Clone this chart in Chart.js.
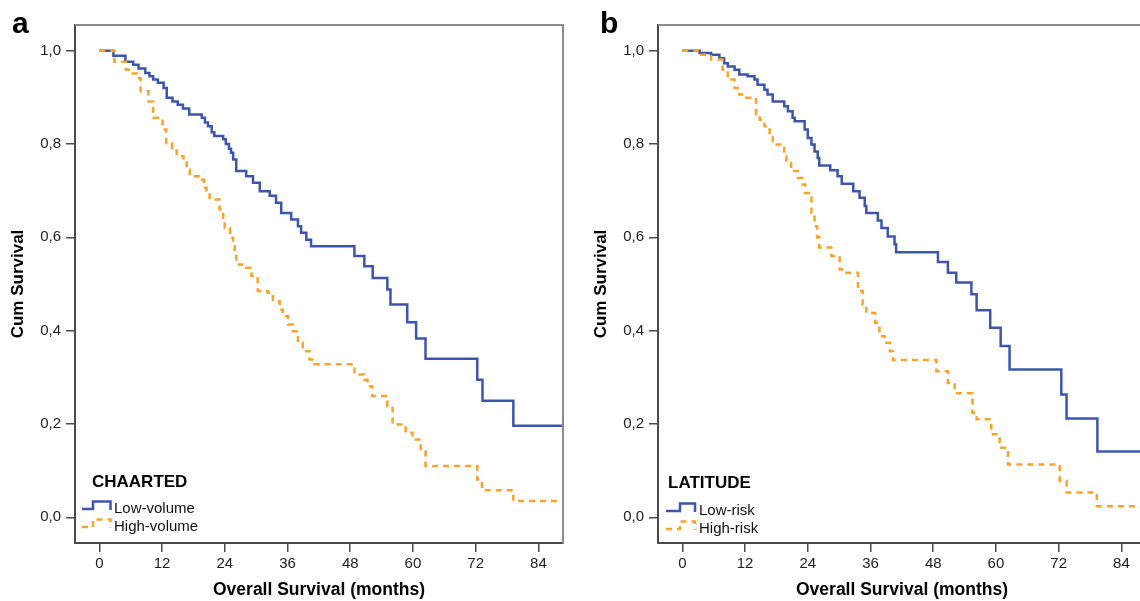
<!DOCTYPE html>
<html>
<!------------------------- Kaplan-Meier : CHAARTED / LATITUDE ------------------------- -->
  <head>
    <meta charset="utf-8">
    <title>Overall Survival</title>
    <script src="https://cdn.jsdelivr.net/npm/chart.js"></script>
    <style>
      html, body { margin: 0; padding: 0; background: #fff; overflow: hidden; }
      .panel { position: absolute; top: 0; width: 575px; height: 601px; }
      #panelA { left: 0; }
      #panelB { left: 583px; }
    </style>
  </head>
  <body>
    <div class="panel" id="panelA"><canvas id="chartA" width="575" height="601"></canvas></div>
    <div class="panel" id="panelB"><canvas id="chartB" width="575" height="601"></canvas></div>
  </body>
</html>
<script>
//------------------------------------------------------------------------------
// data (months, cumulative survival)
//------------------------------------------------------------------------------
var xTicks = [0, 12, 24, 36, 48, 60, 72, 84];
var yTicks = [0, 0.2, 0.4, 0.6, 0.8, 1.0];

var chaartedLowTime = [0, 2.7, 5.0, 6.5, 7.5, 8.8, 9.6, 10.3, 11.2, 12.3, 12.9, 14.0, 15.0, 16.0, 17.2, 19.6, 20.2, 20.8, 21.5, 22.0, 23.7, 24.2, 24.8, 25.2, 25.6, 26.2, 28.1, 29.4, 30.7, 32.6, 33.8, 34.8, 36.7, 38.0, 38.6, 39.6, 40.5, 48.8, 50.7, 52.3, 55.1, 55.7, 58.9, 60.6, 62.4, 72.3, 73.3, 79.2, 88.7];
var chaartedLowSurv = [1.0, 0.989, 0.976, 0.970, 0.962, 0.952, 0.945, 0.938, 0.931, 0.920, 0.899, 0.891, 0.884, 0.876, 0.863, 0.856, 0.846, 0.838, 0.825, 0.817, 0.810, 0.800, 0.790, 0.781, 0.767, 0.742, 0.731, 0.717, 0.699, 0.689, 0.674, 0.652, 0.638, 0.624, 0.610, 0.595, 0.581, 0.560, 0.538, 0.513, 0.488, 0.456, 0.418, 0.383, 0.340, 0.295, 0.250, 0.196, 0.196];

var chaartedHighTime = [0, 2.9, 5.1, 6.0, 7.2, 7.9, 9.4, 10.3, 12.1, 12.8, 13.9, 14.8, 16.1, 16.7, 17.3, 19.6, 20.0, 20.5, 21.1, 23.0, 23.7, 24.0, 25.0, 25.6, 25.9, 26.2, 28.1, 29.1, 30.3, 32.2, 33.2, 34.5, 35.1, 36.1, 37.0, 38.0, 38.9, 40.2, 41.1, 48.8, 50.7, 51.3, 52.2, 55.1, 56.1, 58.6, 59.9, 61.5, 62.4, 72.3, 73.2, 79.2, 88.7];
var chaartedHighSurv = [1.0, 0.976, 0.959, 0.951, 0.941, 0.913, 0.891, 0.856, 0.831, 0.802, 0.792, 0.774, 0.763, 0.745, 0.731, 0.724, 0.706, 0.695, 0.681, 0.660, 0.642, 0.620, 0.599, 0.581, 0.560, 0.542, 0.535, 0.517, 0.485, 0.481, 0.463, 0.445, 0.431, 0.413, 0.399, 0.374, 0.356, 0.338, 0.328, 0.306, 0.295, 0.281, 0.260, 0.238, 0.199, 0.181, 0.167, 0.142, 0.110, 0.081, 0.058, 0.035, 0.035];

var latitudeLowTime = [0, 3.3, 5.5, 7.1, 8.0, 8.7, 10.0, 10.9, 12.5, 13.8, 14.4, 15.7, 16.3, 17.3, 19.5, 20.2, 21.1, 21.5, 23.4, 24.0, 24.7, 25.3, 25.9, 26.2, 28.3, 29.7, 30.5, 32.7, 33.9, 34.9, 35.2, 37.4, 38.1, 39.3, 40.6, 40.9, 48.9, 50.8, 52.4, 55.3, 56.3, 58.9, 60.9, 62.6, 72.5, 73.5, 79.4, 88.7];
var latitudeLowSurv = [1.0, 0.995, 0.991, 0.984, 0.973, 0.966, 0.959, 0.949, 0.945, 0.938, 0.927, 0.916, 0.906, 0.891, 0.881, 0.870, 0.856, 0.849, 0.831, 0.813, 0.799, 0.784, 0.770, 0.754, 0.744, 0.731, 0.715, 0.699, 0.685, 0.667, 0.652, 0.636, 0.620, 0.602, 0.585, 0.568, 0.547, 0.524, 0.503, 0.478, 0.444, 0.406, 0.367, 0.317, 0.263, 0.212, 0.141, 0.141];

var latitudeHighTime = [0, 2.9, 5.5, 7.7, 8.7, 10.0, 10.9, 11.9, 14.1, 14.8, 15.7, 16.7, 17.3, 19.5, 19.9, 20.8, 22.1, 23.0, 23.5, 24.7, 25.3, 25.8, 26.2, 28.5, 30.1, 31.0, 33.6, 34.5, 35.2, 36.9, 37.7, 38.7, 39.7, 40.3, 48.6, 50.8, 52.1, 55.5, 56.3, 59.1, 60.7, 62.3, 72.2, 73.5, 79.3, 88.7];
var latitudeHighSurv = [1.0, 0.991, 0.981, 0.959, 0.938, 0.920, 0.906, 0.899, 0.863, 0.852, 0.838, 0.817, 0.799, 0.774, 0.760, 0.742, 0.727, 0.713, 0.695, 0.652, 0.624, 0.600, 0.578, 0.560, 0.531, 0.524, 0.485, 0.456, 0.438, 0.417, 0.388, 0.374, 0.356, 0.337, 0.313, 0.288, 0.266, 0.224, 0.210, 0.178, 0.149, 0.113, 0.078, 0.053, 0.024, 0.024];

var BLUE = '#3d55ad';
var ORANGE = '#fba228';
var AXIS = '#4a4a4a';
var FONT = '"Liberation Sans", Arial, sans-serif';

Chart.defaults.font.family = FONT;

function toPoints(t, s) {
  var pts = [];
  for (var i = 0; i < t.length; i++) {
    pts.push({ x: t[i], y: s[i] });
  }
  return pts;
}

//------------------------------------------------------------------------------
// frame, panel letter, legend
//------------------------------------------------------------------------------
var panelDecor = {
  id: 'panelDecor',
  afterDraw: function(chart, args, opts) {
    var ctx = chart.ctx;
    var a = chart.chartArea;
    ctx.save();

    ctx.strokeStyle = '#8a8a8a';
    ctx.lineWidth = 2;
    ctx.beginPath();
    ctx.moveTo(a.left, a.top);
    ctx.lineTo(a.right, a.top);
    ctx.lineTo(a.right, a.bottom);
    ctx.stroke();

    ctx.fillStyle = '#000';
    ctx.textBaseline = 'alphabetic';
    ctx.textAlign = 'left';
    ctx.font = 'bold 30px ' + FONT;
    ctx.fillText(opts.letter, opts.letterX, 33);

    ctx.font = 'bold 17px ' + FONT;
    ctx.fillText(opts.group, opts.groupX, opts.groupY);

    var ds = chart.data.datasets;
    var rows = [1, 0]; // low first, high second
    for (var r = 0; r < rows.length; r++) {
      var d = ds[rows[r]];
      var yb = opts.rowY[r];
      var sx = opts.symX;
      ctx.strokeStyle = d.borderColor;
      ctx.lineWidth = 2.5;
      ctx.setLineDash(d.borderDash || []);
      ctx.beginPath();
      ctx.moveTo(sx[0], yb);
      ctx.lineTo(sx[1], yb);
      ctx.lineTo(sx[1], yb - 7.5);
      ctx.lineTo(sx[2], yb - 7.5);
      ctx.lineTo(sx[2], yb + 1);
      ctx.stroke();
      ctx.setLineDash([]);
      ctx.fillStyle = '#111';
      ctx.font = '15px ' + FONT;
      ctx.fillText(d.label, opts.textX, yb + 4);
    }
    ctx.restore();
  }
};

//------------------------------------------------------------------------------
// chart builder
//------------------------------------------------------------------------------
function makeChart(id, lowLabel, lowT, lowS, highLabel, highT, highS, decor) {
  var ctx = document.getElementById(id).getContext('2d');
  return new Chart(ctx, {
    type: 'line',
    data: {
      datasets: [{
        label: highLabel,
        data: toPoints(highT, highS),
        borderColor: ORANGE,
        borderWidth: 2.5,
        borderDash: [6, 5],
        stepped: 'before',
        pointRadius: 0,
        fill: false
      }, {
        label: lowLabel,
        data: toPoints(lowT, lowS),
        borderColor: BLUE,
        borderWidth: 2.5,
        stepped: 'before',
        pointRadius: 0,
        fill: false
      }]
    },
    options: {
      responsive: false,
      animation: false,
      devicePixelRatio: 1,
      layout: { padding: { left: 0, top: 25, right: 12, bottom: 0 } },
      plugins: {
        legend: { display: false },
        tooltip: { enabled: false },
        panelDecor: decor
      },
      scales: {
        x: {
          type: 'linear',
          min: -4.65,
          max: 88.7,
          afterBuildTicks: function(s) { s.ticks = xTicks.map(function(v) { return { value: v }; }); },
          afterFit: function(s) { s.height = 58; },
          grid: { drawOnChartArea: false, drawTicks: true, tickLength: 9, color: AXIS, lineWidth: 1.5 },
          border: { display: true, color: AXIS, width: 2 },
          ticks: { color: '#222', font: { size: 15 }, padding: 3, maxRotation: 0,
                   callback: function(v) { return String(v); } },
          title: { display: true, text: 'Overall Survival (months)', color: '#000',
                   font: { size: 17.5, weight: 'bold' }, padding: { top: 0, bottom: 0 } }
        },
        y: {
          min: -0.055,
          max: 1.055,
          afterBuildTicks: function(s) { s.ticks = yTicks.map(function(v) { return { value: v }; }); },
          afterFit: function(s) { s.width = 75; },
          grid: { drawOnChartArea: false, drawTicks: true, tickLength: 9, color: AXIS, lineWidth: 1.5 },
          border: { display: true, color: AXIS, width: 2 },
          ticks: { color: '#222', font: { size: 15 }, padding: 5,
                   callback: function(v) { return v.toFixed(1).replace('.', ','); } },
          title: { display: true, text: 'Cum Survival', color: '#000',
                   font: { size: 17, weight: 'bold' }, padding: { top: 8, bottom: 0 } }
        }
      }
    },
    plugins: [panelDecor]
  });
}

var chartA = makeChart('chartA', 'Low-volume', chaartedLowTime, chaartedLowSurv,
  'High-volume', chaartedHighTime, chaartedHighSurv,
  { letter: 'a', letterX: 12, group: 'CHAARTED', groupX: 92, groupY: 487,
    symX: [82, 93, 110.5], textX: 114, rowY: [509, 527] });

var chartB = makeChart('chartB', 'Low-risk', latitudeLowTime, latitudeLowSurv,
  'High-risk', latitudeHighTime, latitudeHighSurv,
  { letter: 'b', letterX: 17, group: 'LATITUDE', groupX: 85, groupY: 488,
    symX: [83, 97, 112], textX: 116, rowY: [511, 529] });
</script>
